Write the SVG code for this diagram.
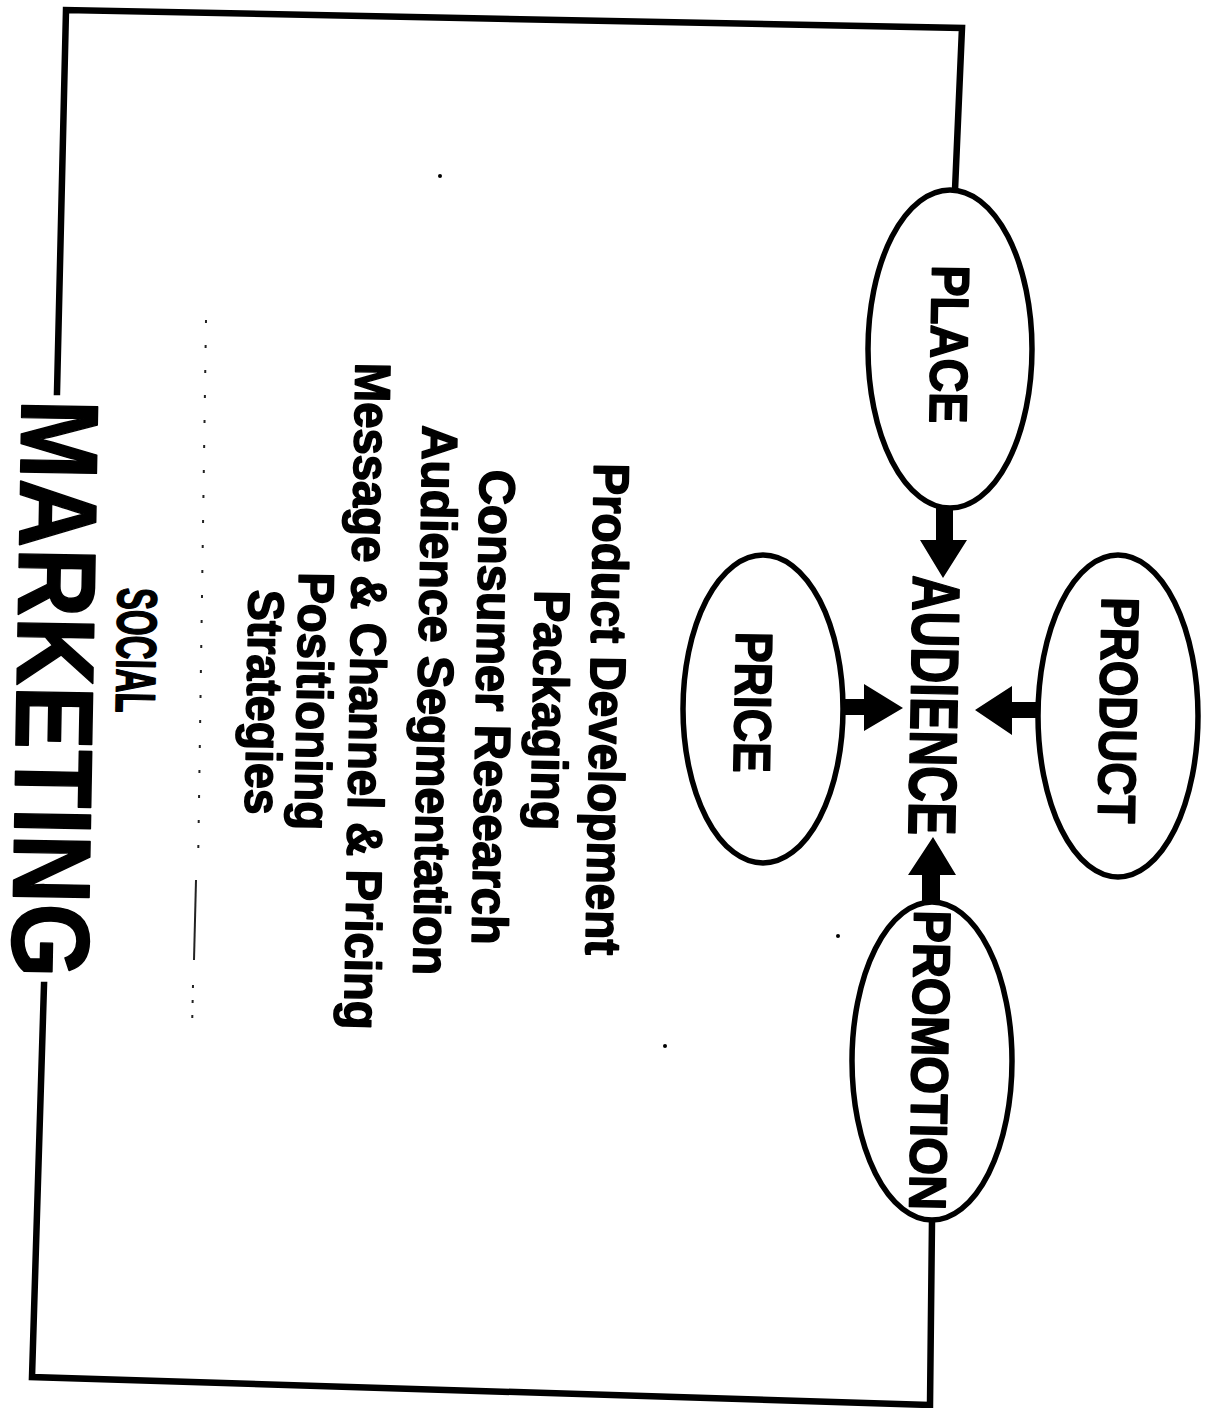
<svg xmlns="http://www.w3.org/2000/svg" width="1209" height="1408" viewBox="0 0 1209 1408">
  <style>
    .frame { fill: none; stroke: #000; stroke-width: 6.5; stroke-linejoin: miter; stroke-linecap: square; }
    .oval { fill: #fff; stroke: #000; stroke-width: 5.5; }
    .arrow { fill: #000; stroke: none; }
    .lbl { font-family: "Liberation Sans", Arial, Helvetica, sans-serif; font-weight: bold; fill: #000; stroke: #000; stroke-width: 1.6; stroke-linejoin: round; text-anchor: middle; }
    .speck { fill: none; stroke: #222; stroke-width: 2; }
  </style>
  <rect x="0" y="0" width="1209" height="1408" fill="#fff"/>

  <!-- outer frame joining PLACE and PROMOTION around the page -->
  <g id="frame">
    <polyline class="frame" points="955,190 962,28 66,10 57,392"/>
    <polyline class="frame" points="44,985 32,1377 930,1405 932,1221"/>
  </g>

  <!-- faint marks -->
  <g id="marks">
    <line class="speck" x1="206" y1="320" x2="198" y2="870" stroke-dasharray="3 22"/>
    <line class="speck" x1="196" y1="880" x2="194" y2="960" stroke-width="3"/>
    <line class="speck" x1="193" y1="985" x2="192" y2="1030" stroke-dasharray="3 12"/>
    <circle cx="440" cy="176" r="2" fill="#000"/>
    <circle cx="665" cy="1046" r="2" fill="#000"/>
    <circle cx="838" cy="936" r="2" fill="#000"/>
  </g>

  <!-- arrows into AUDIENCE -->
  <g id="connectors">
    <polygon class="arrow" points="936,508 953,508 953,540 967,540 943,578 920,540 936,540"/>
    <polygon class="arrow" points="1039,702 1039,718 1012,718 1012,735 975,710 1012,686 1012,702"/>
    <polygon class="arrow" points="840,699 864,699 864,684 903,708 864,731 864,715 840,715"/>
    <polygon class="arrow" points="922,904 940,904 940,875 956,875 933,837 908,875 922,875"/>
  </g>

  <g id="node-place">
    <ellipse class="oval" cx="950" cy="349" rx="82" ry="159"/>
    <text class="lbl" font-size="53" textLength="158" lengthAdjust="spacingAndGlyphs" transform="translate(931,344) rotate(91)">PLACE</text>
  </g>

  <g id="node-product">
    <ellipse class="oval" cx="1118" cy="716" rx="80" ry="161"/>
    <text class="lbl" font-size="53" textLength="226" lengthAdjust="spacingAndGlyphs" transform="translate(1100,710) rotate(91)">PRODUCT</text>
  </g>

  <g id="node-price">
    <ellipse class="oval" cx="763" cy="709" rx="80" ry="154"/>
    <text class="lbl" font-size="52" textLength="141" lengthAdjust="spacingAndGlyphs" transform="translate(735,702) rotate(91)">PRICE</text>
  </g>

  <g id="node-promotion">
    <ellipse class="oval" cx="932" cy="1061" rx="80" ry="159"/>
    <text class="lbl" font-size="52" textLength="300" lengthAdjust="spacingAndGlyphs" transform="translate(912,1060) rotate(91)">PROMOTION</text>
  </g>

  <g id="node-audience">
    <text class="lbl" font-size="67" stroke-width="2.2" textLength="260" lengthAdjust="spacingAndGlyphs" transform="translate(911,705) rotate(91)">AUDIENCE</text>
  </g>

  <g id="node-activities">
    <text class="lbl" font-size="50" stroke-width="2.2" textLength="492" lengthAdjust="spacingAndGlyphs" transform="translate(590,709) rotate(91)">Product Development</text>
    <text class="lbl" font-size="50" stroke-width="2.2" textLength="240" lengthAdjust="spacingAndGlyphs" transform="translate(533,710) rotate(91)">Packaging</text>
    <text class="lbl" font-size="50" stroke-width="2.2" textLength="475" lengthAdjust="spacingAndGlyphs" transform="translate(476,707) rotate(91)">Consumer Research</text>
    <text class="lbl" font-size="50" stroke-width="2.2" textLength="550" lengthAdjust="spacingAndGlyphs" transform="translate(418,700) rotate(91)">Audience Segmentation</text>
    <text class="lbl" font-size="50" stroke-width="2.2" textLength="667" lengthAdjust="spacingAndGlyphs" transform="translate(350,696) rotate(91)">Message &amp; Channel &amp; Pricing</text>
    <text class="lbl" font-size="50" stroke-width="2.2" textLength="258" lengthAdjust="spacingAndGlyphs" transform="translate(297,701) rotate(91)">Positioning</text>
    <text class="lbl" font-size="50" stroke-width="2.2" textLength="225" lengthAdjust="spacingAndGlyphs" transform="translate(247,702) rotate(91)">Strategies</text>
  </g>

  <g id="node-title">
    <text class="lbl" font-size="56" stroke-width="2.4" textLength="125" lengthAdjust="spacingAndGlyphs" transform="translate(117,650) rotate(91)">SOCIAL</text>
    <text class="lbl" font-size="110" stroke-width="3.5" textLength="578" lengthAdjust="spacingAndGlyphs" transform="translate(17,688) rotate(91)">MARKETING</text>
  </g>
</svg>
